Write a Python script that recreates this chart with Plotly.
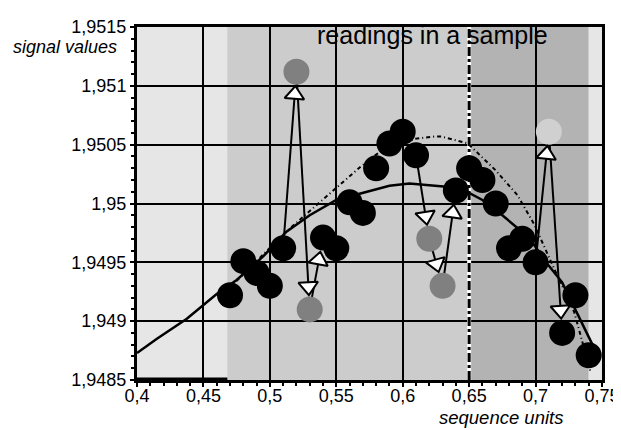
import math
import plotly.graph_objects as go

# ---------------- data ----------------
seq_x = [0.47, 0.48, 0.49, 0.50, 0.51, 0.52, 0.53, 0.54, 0.55, 0.56, 0.57, 0.58, 0.59, 0.60,
         0.61, 0.62, 0.63, 0.64, 0.65, 0.66, 0.67, 0.68, 0.69, 0.70, 0.71, 0.72, 0.73, 0.74]
seq_y = [1.94922, 1.94951, 1.94941, 1.94930, 1.94962, 1.95112, 1.94910, 1.94971, 1.94962, 1.95001,
         1.94992, 1.95030, 1.95051, 1.95061, 1.95041, 1.94970, 1.94930, 1.95011, 1.95030, 1.95020,
         1.95000, 1.94962, 1.94970, 1.94950, 1.95061, 1.94890, 1.94922, 1.94871]
seq_kind = ["n", "n", "n", "n", "n", "o", "o", "n", "n", "n",
            "n", "n", "n", "n", "n", "o", "o", "n", "n", "n",
            "n", "n", "n", "n", "h", "n", "n", "n"]

trend_x = [0.40, 0.415, 0.4375, 0.46, 0.475, 0.495, 0.5125, 0.53, 0.55, 0.57, 0.59, 0.605,
           0.625, 0.635, 0.65, 0.66, 0.675, 0.695, 0.71, 0.72, 0.745]
trend_y = [1.94873, 1.94885, 1.94902, 1.94923, 1.94935, 1.94955, 1.94976, 1.94990, 1.95003,
           1.95009, 1.95015, 1.95017, 1.95015, 1.95014, 1.95009, 1.95003, 1.94990, 1.94971,
           1.94947, 1.94933, 1.94875]

fit_x = [0.4748, 0.5122, 0.5294, 0.5518, 0.569, 0.5817, 0.6094, 0.6244, 0.629, 0.649, 0.6692,
         0.6864, 0.6991, 0.711, 0.729, 0.7411]
fit_y = [1.94934, 1.94976, 1.94993, 1.95015, 1.95032, 1.95043, 1.95055, 1.95057, 1.95057,
         1.95051, 1.95029, 1.95007, 1.94982, 1.94952, 1.94908, 1.94858]

band_edges = [0.40, 0.468, 0.65, 0.74, 0.75]
split_x = 0.65

x_ticks = [0.40, 0.45, 0.50, 0.55, 0.60, 0.65, 0.70, 0.75]
x_tick_labels = ["0,4", "0,45", "0,5", "0,55", "0,6", "0,65", "0,7", "0,75"]
y_ticks = [1.9485, 1.9490, 1.9495, 1.9500, 1.9505, 1.9510, 1.9515]
y_tick_labels = ["1,9485", "1,949", "1,9495", "1,95", "1,9505", "1,951", "1,9515"]

title_text = "readings in a sample"
x_title = "sequence units"
y_title = "signal values"

# ---------------- style ----------------
# the page body has an 8px margin; the figure is offset by it
W, H = 621, 422
ML, MR, MT, MB = 129, 24, 9, 50
X_RANGE = [0.40, 0.75]
Y_RANGE = [1.9485, 1.9515]
FONT = "Liberation Sans, Arial, sans-serif"
band_colors = ["#e6e6e6", "#cccccc", "#b3b3b3", "#e6e6e6"]
kind_color = {"n": "#000000", "o": "#808080", "h": "#d0d0d0"}
MARKER_SIZE = 26
HEAD_SIZE = 17
GAP_PX = 15  # distance from target centre to arrow tip

kx = (W - ML - MR) / (X_RANGE[1] - X_RANGE[0])
ky = (H - MT - MB) / (Y_RANGE[1] - Y_RANGE[0])

fig = go.Figure()

# background bands
for i, col in enumerate(band_colors):
    fig.add_shape(type="rect", xref="x", yref="paper", x0=band_edges[i], x1=band_edges[i + 1],
                  y0=0, y1=1, fillcolor=col, line_width=0, layer="below")

# thick bottom segment under the first band
fig.add_shape(type="line", xref="x", yref="paper", x0=band_edges[0], x1=band_edges[1],
              y0=0, y1=0, line=dict(color="black", width=5), layer="above")

# split line
fig.add_trace(go.Scatter(x=[split_x, split_x], y=Y_RANGE, mode="lines",
                         line=dict(color="white", width=4), hoverinfo="skip", showlegend=False))
fig.add_trace(go.Scatter(x=[split_x, split_x], y=Y_RANGE, mode="lines",
                         line=dict(color="black", width=3, dash="dashdot"), hoverinfo="skip",
                         showlegend=False))

# curves
fig.add_trace(go.Scatter(x=trend_x, y=trend_y, mode="lines",
                         line=dict(color="black", width=2.5), showlegend=False))
fig.add_trace(go.Scatter(x=fit_x, y=fit_y, mode="lines",
                         line=dict(color="black", width=2, dash="4px,3px,1px,3px"),
                         showlegend=False))

# arrows between consecutive points when an outlier is involved
line_x, line_y, head_x, head_y, head_ang = [], [], [], [], []
for i in range(len(seq_x) - 1):
    if seq_kind[i] == "n" and seq_kind[i + 1] == "n":
        continue
    x1, y1, x2, y2 = seq_x[i], seq_y[i], seq_x[i + 1], seq_y[i + 1]
    dxp, dyp = (x2 - x1) * kx, (y2 - y1) * ky
    L = math.hypot(dxp, dyp)
    ux, uy = dxp / L, dyp / L
    d_head = GAP_PX + HEAD_SIZE / 2
    hx, hy = x2 - d_head * ux / kx, y2 - d_head * uy / ky
    line_x += [x1, hx, None]
    line_y += [y1, hy, None]
    head_x.append(hx)
    head_y.append(hy)
    head_ang.append(math.degrees(math.atan2(ux, uy)))

fig.add_trace(go.Scatter(x=line_x, y=line_y, mode="lines", line=dict(color="black", width=2),
                         hoverinfo="skip", showlegend=False))

# points
fig.add_trace(go.Scatter(x=seq_x, y=seq_y, mode="markers",
                         marker=dict(size=MARKER_SIZE, color=[kind_color[k] for k in seq_kind],
                                     line=dict(width=0)),
                         showlegend=False))

# arrow heads
fig.add_trace(go.Scatter(x=head_x, y=head_y, mode="markers",
                         marker=dict(symbol="triangle-up", size=HEAD_SIZE, angle=head_ang,
                                     color="white", line=dict(color="black", width=2)),
                         hoverinfo="skip", showlegend=False))

axis_common = dict(showline=True, mirror=True, linecolor="black", linewidth=3,
                   showgrid=True, gridcolor="black", gridwidth=2, zeroline=False,
                   ticks="outside", ticklen=4, tickwidth=2, tickcolor="black",
                   tickfont=dict(family=FONT, size=18, color="black"))

fig.update_xaxes(range=X_RANGE, tickmode="array", tickvals=x_ticks, ticktext=x_tick_labels,
                 ticklabelstandoff=-7,
                 minor=dict(tick0=0.4, dtick=0.01, ticks="outside", ticklen=3, tickwidth=2,
                            tickcolor="black", showgrid=False),
                 **axis_common)
fig.update_yaxes(range=Y_RANGE, tickmode="array", tickvals=y_ticks, ticktext=y_tick_labels,
                 minor=dict(tick0=1.9485, dtick=0.0001, ticks="outside", ticklen=3, tickwidth=2,
                            tickcolor="black", showgrid=False),
                 **axis_common)

fig.add_annotation(text=title_text, xref="paper", yref="paper", x=0.636, y=0.977,
                   xanchor="center", yanchor="middle", showarrow=False,
                   font=dict(family=FONT, size=25, color="black"))
fig.add_annotation(text="<i>" + y_title + "</i>", xref="paper", yref="paper",
                   x=-0.154, y=0.942, xanchor="center", yanchor="middle", showarrow=False,
                   font=dict(family=FONT, size=18, color="black"))
fig.add_annotation(text="<i>" + x_title + "</i>", xref="paper", yref="paper",
                   x=0.782, y=-0.106, xanchor="center", yanchor="middle", showarrow=False,
                   font=dict(family=FONT, size=18.5, color="black"))

fig.update_layout(width=W, height=H, margin=dict(l=ML, r=MR, t=MT, b=MB, pad=0),
                  paper_bgcolor="white", plot_bgcolor="#e6e6e6", showlegend=False,
                  font=dict(family=FONT, color="black"))

fig.write_html("out.html")
